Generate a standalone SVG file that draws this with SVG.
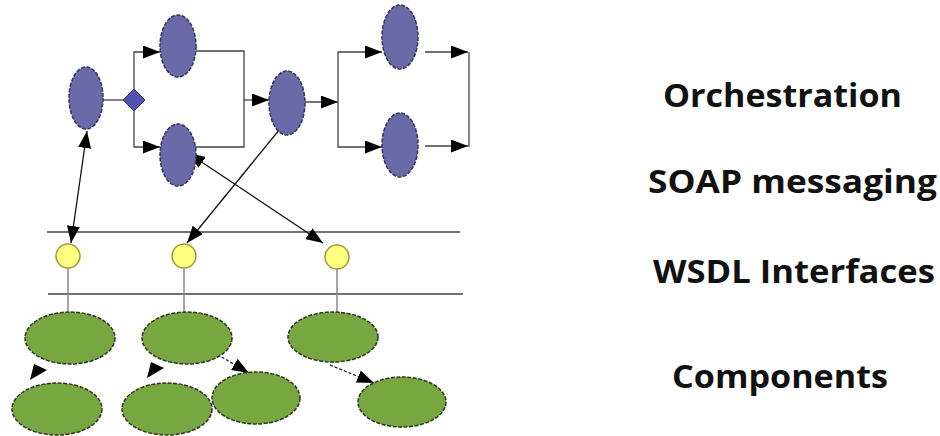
<svg xmlns="http://www.w3.org/2000/svg" width="940" height="436" viewBox="0 0 940 436">
  <style>
    .task { fill: #6a6aa8; stroke: #333360; stroke-width: 1.5; stroke-dasharray: 4 1.5; }
    .gate { fill: #5252b0; stroke: #333370; stroke-width: 1; }
    .port { fill: #ffff80; stroke: #a09a40; stroke-width: 1.5; }
    .comp { fill: #78a640; stroke: #2a3420; stroke-width: 1.5; stroke-dasharray: 4 1.5; }
    .flow { fill: none; stroke: #444; stroke-width: 1.3; }
    .link { fill: none; stroke: #111; stroke-width: 1.3; }
    .dep { fill: none; stroke: #222; stroke-width: 1.3; stroke-dasharray: 3 2; }
    .bus { fill: none; stroke: #444; stroke-width: 1.5; }
    .stem { fill: none; stroke: #888; stroke-width: 1.5; }
    .head { fill: #000; }
    .label { font-family: "Open Sans", "Liberation Sans", sans-serif; font-weight: 700; font-size: 33px; fill: #111; }
  </style>
  <defs>
    <marker id="arrow" markerUnits="userSpaceOnUse" markerWidth="17" markerHeight="13" viewBox="0 0 17 13" refX="17" refY="6.5" orient="auto-start-reverse">
      <path d="M0,0 L17,6.5 L0,13 Z" fill="#000"/>
    </marker>
  </defs>

  <!-- layer separators -->
  <g id="buses">
    <line class="bus" x1="47" y1="232" x2="460" y2="232"/>
    <line class="bus" x1="48" y1="294" x2="463" y2="294"/>
  </g>

  <!-- connectors -->
  <g id="connectors">
    <!-- orchestration flow -->
    <line class="flow" x1="103" y1="100" x2="123" y2="100"/>
    <path class="flow" d="M134,89 V52 H160" marker-end="url(#arrow)"/>
    <path class="flow" d="M134,111 V147 H160" marker-end="url(#arrow)"/>
    <path class="flow" d="M196,51 H244 V147 H195"/>
    <path class="flow" d="M244,100 H269" marker-end="url(#arrow)"/>
    <path class="flow" d="M305,102 H338" marker-end="url(#arrow)"/>
    <path class="flow" d="M338,100 V52 H382" marker-end="url(#arrow)"/>
    <path class="flow" d="M338,100 V147 H382" marker-end="url(#arrow)"/>
    <path class="flow" d="M425,52 H468" marker-end="url(#arrow)"/>
    <path class="flow" d="M425,146 H468" marker-end="url(#arrow)"/>
    <line class="flow" x1="469" y1="52" x2="469" y2="147"/>

    <!-- SOAP message exchanges -->
    <line class="link" x1="87" y1="131" x2="71" y2="243" marker-start="url(#arrow)" marker-end="url(#arrow)"/>
    <line class="link" x1="293" y1="113" x2="187" y2="243" marker-start="url(#arrow)" marker-end="url(#arrow)"/>
    <line class="link" x1="188" y1="153" x2="323" y2="243" marker-start="url(#arrow)" marker-end="url(#arrow)"/>

    <!-- interface stems -->
    <line class="stem" x1="68" y1="268" x2="68" y2="313"/>
    <line class="stem" x1="184" y1="268" x2="184" y2="313"/>
    <line class="stem" x1="337" y1="269" x2="337" y2="312"/>

    <!-- component dependencies -->
    <polygon class="head" points="30,380 34,364 47,370"/>
    <polygon class="head" points="147,378 151,362 164,368"/>
    <line class="dep" x1="213" y1="352" x2="249" y2="373" marker-end="url(#arrow)"/>
    <line class="dep" x1="330" y1="365" x2="374" y2="383" marker-end="url(#arrow)"/>
  </g>

  <!-- orchestration tasks -->
  <g id="task-start"><ellipse class="task" cx="86" cy="98" rx="17" ry="31"/></g>
  <g id="split"><polygon class="gate" points="134,89 145,100 134,111 123,100"/></g>
  <g id="task-upper"><ellipse class="task" cx="178" cy="46" rx="18" ry="31"/></g>
  <g id="task-lower"><ellipse class="task" cx="178" cy="155" rx="18" ry="31"/></g>
  <g id="task-join"><ellipse class="task" cx="287" cy="103" rx="18" ry="32"/></g>
  <g id="task-branch-a"><ellipse class="task" cx="400" cy="37" rx="18" ry="32"/></g>
  <g id="task-branch-b"><ellipse class="task" cx="400" cy="145" rx="18" ry="32"/></g>

  <!-- WSDL interfaces -->
  <g id="port-1"><circle class="port" cx="68" cy="256" r="12"/></g>
  <g id="port-2"><circle class="port" cx="184" cy="256" r="12"/></g>
  <g id="port-3"><circle class="port" cx="337" cy="257" r="12"/></g>

  <!-- components -->
  <g id="comp-1"><ellipse class="comp" cx="70" cy="338" rx="45" ry="26"/></g>
  <g id="comp-2"><ellipse class="comp" cx="187" cy="338" rx="45" ry="26"/></g>
  <g id="comp-3"><ellipse class="comp" cx="333" cy="337" rx="45" ry="25"/></g>
  <g id="comp-4"><ellipse class="comp" cx="57" cy="409" rx="45" ry="26"/></g>
  <g id="comp-5"><ellipse class="comp" cx="167" cy="409" rx="45" ry="26"/></g>
  <g id="comp-6"><ellipse class="comp" cx="256" cy="398" rx="44" ry="26"/></g>
  <g id="comp-7"><ellipse class="comp" cx="402" cy="402" rx="44" ry="25"/></g>

  <!-- layer names -->
  <g id="labels">
    <text class="label" x="663" y="107" textLength="239" lengthAdjust="spacingAndGlyphs">Orchestration</text>
    <text class="label" x="648" y="193" textLength="289" lengthAdjust="spacingAndGlyphs">SOAP messaging</text>
    <text class="label" x="653" y="283" textLength="282" lengthAdjust="spacingAndGlyphs">WSDL Interfaces</text>
    <text class="label" x="672" y="388" textLength="216" lengthAdjust="spacingAndGlyphs">Components</text>
  </g>
</svg>
